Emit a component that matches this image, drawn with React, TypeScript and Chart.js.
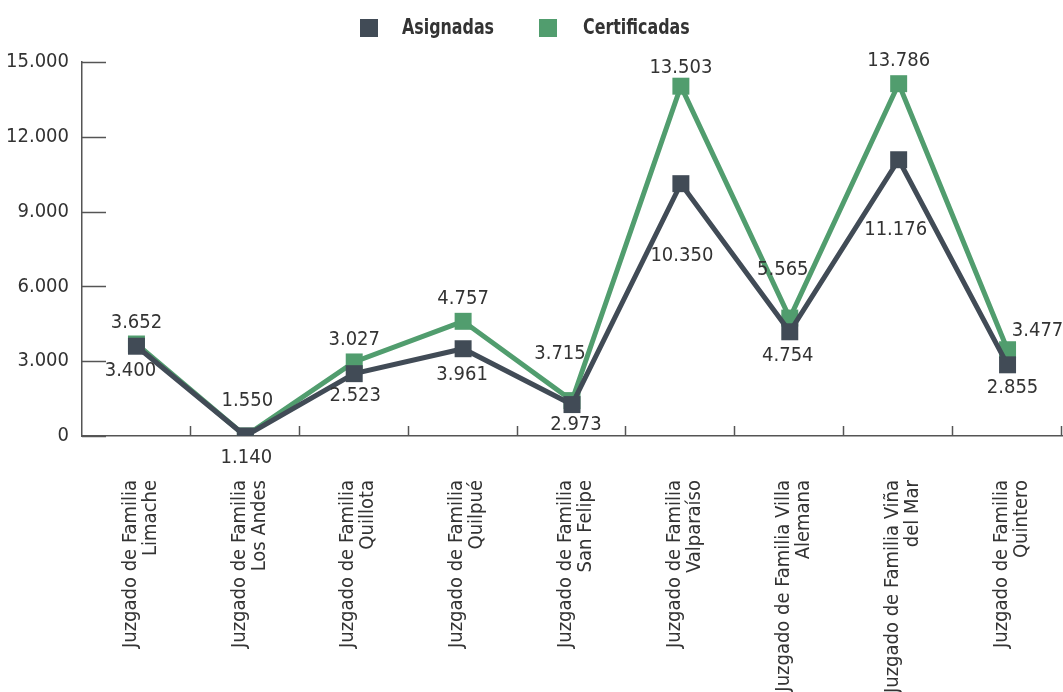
import React, { useEffect, useRef } from "react";
import { Chart, registerables } from "chart.js";

Chart.register(...registerables);

const categories: string[][] = [
  ["Juzgado de Familia", "Limache"],
  ["Juzgado de Familia", "Los Andes"],
  ["Juzgado de Familia", "Quillota"],
  ["Juzgado de Familia", "Quilpué"],
  ["Juzgado de Familia", "San Felipe"],
  ["Juzgado de Familia", "Valparaíso"],
  ["Juzgado de Familia Villa", "Alemana"],
  ["Juzgado de Familia Viña", "del Mar"],
  ["Juzgado de Familia", "Quintero"],
];

// Plotted positions
const asignadas = [3600, 0, 2500, 3500, 1260, 10120, 4180, 11080, 2855];
const certificadas = [3690, 0, 2970, 4600, 1420, 14030, 4730, 14130, 3460];

// Printed value labels as shown in the picture
const asignadasLabels = ["3.400", "1.140", "2.523", "3.961", "2.973", "10.350", "4.754", "11.176", "2.855"];
const certificadasLabels = ["3.652", "1.550", "3.027", "4.757", "3.715", "13.503", "5.565", "13.786", "3.477"];

const yTicks = [0, 3000, 6000, 9000, 12000, 15000];

// label offsets (pixels, relative to point)
const asignadasLabelOffsets: [number, number][] = [
  [-6, 25], [1, 22], [1, 22], [-1, 26], [4, 20], [1, 72], [-2, 24], [-3, 70], [5, 23],
];
const certificadasLabelOffsets: [number, number][] = [
  [0, -21], [2, -35], [0, -22], [0, -23], [-12, -47], [0, -18], [-7, -48], [0, -23], [30, -19],
];

const FONT = "'DejaVu Sans Condensed', 'Liberation Sans Narrow', 'Liberation Sans', sans-serif";
const DARK = "#414b56";
const GREEN = "#519d6e";
const TEXT = "#333333";
const AXIS = "#555555";

const fmt = (v: number) => {
  const s = Math.round(v).toString();
  return s.replace(/\B(?=(\d{3})+(?!\d))/g, ".");
};

const decorPlugin = {
  id: "decor",
  afterDraw(chart: any) {
    const { ctx, chartArea, scales } = chart;
    ctx.save();
    ctx.strokeStyle = AXIS;
    ctx.lineWidth = 1.5;
    yTicks.forEach((v) => {
      const y = Math.round(scales.y.getPixelForValue(v)) + 0.5;
      ctx.beginPath();
      ctx.moveTo(chartArea.left, y);
      ctx.lineTo(chartArea.left + 24, y);
      ctx.stroke();
    });
    const n = categories.length;
    for (let i = 1; i <= n; i++) {
      const x = Math.round(scales.x.getPixelForValue(i - 0.5)) - 0.5;
      ctx.beginPath();
      ctx.moveTo(x, chartArea.bottom);
      ctx.lineTo(x, chartArea.bottom - 10);
      ctx.stroke();
    }
    ctx.restore();
  },
  afterDatasetsDraw(chart: any) {
    const { ctx } = chart;
    ctx.save();
    ctx.font = `20px ${FONT}`;
    ctx.fillStyle = TEXT;
    ctx.textAlign = "center";
    ctx.textBaseline = "middle";
    const sets: [number, string[], [number, number][]][] = [
      [0, asignadasLabels, asignadasLabelOffsets],
      [1, certificadasLabels, certificadasLabelOffsets],
    ];
    sets.forEach(([di, labels, offs]) => {
      const meta = chart.getDatasetMeta(di);
      meta.data.forEach((el: any, i: number) => {
        ctx.fillText(labels[i], el.x + offs[i][0], el.y + offs[i][1]);
      });
    });
    ctx.restore();
  },
};

export default function App() {
  const ref = useRef<HTMLCanvasElement | null>(null);

  useEffect(() => {
    document.body.style.margin = "0";
    if (!ref.current) return;
    const chart = new Chart(ref.current, {
      type: "line",
      data: {
        labels: categories,
        datasets: [
          {
            label: "Asignadas",
            data: asignadas,
            borderColor: DARK,
            backgroundColor: DARK,
            borderWidth: 5,
            pointStyle: "rect",
            pointRadius: 12,
            pointHoverRadius: 12,
            pointBorderWidth: 0,
            tension: 0,
          },
          {
            label: "Certificadas",
            data: certificadas,
            borderColor: GREEN,
            backgroundColor: GREEN,
            borderWidth: 5,
            pointStyle: "rect",
            pointRadius: 12,
            pointHoverRadius: 12,
            pointBorderWidth: 0,
            tension: 0,
          },
        ],
      },
      options: {
        responsive: false,
        animation: false,
        layout: { autoPadding: false, padding: { top: 62, left: 0, right: 1, bottom: 0 } },
        plugins: {
          legend: { display: false },
          tooltip: { enabled: false },
        },
        scales: {
          x: {
            offset: true,
            grid: { display: false, drawTicks: false },
            border: { display: true, color: AXIS, width: 1.5 },
            ticks: {
              minRotation: 90,
              maxRotation: 90,
              autoSkip: false,
              padding: 44,
              labelOffset: -6,
              color: TEXT,
              font: { family: FONT, size: 20, lineHeight: 1.0 },
            },
            afterFit: (s: any) => {
              s.height = 256;
              s.paddingLeft = 0;
              s.paddingRight = 0;
            },
          },
          y: {
            min: 0,
            max: 15000,
            grid: { display: false, drawTicks: false },
            border: { display: true, color: AXIS, width: 1.5 },
            ticks: {
              stepSize: 3000,
              padding: 13,
              color: TEXT,
              font: { family: FONT, size: 20 },
              callback: (v: any) => fmt(Number(v)),
            },
            afterFit: (s: any) => {
              s.width = 82;
              s.paddingTop = 0;
              s.paddingBottom = 0;
            },
          },
        },
      },
      plugins: [decorPlugin],
    });
    return () => chart.destroy();
  }, []);

  const legendText: React.CSSProperties = {
    position: "absolute",
    top: 15,
    fontFamily: FONT,
    fontWeight: "bold",
    fontSize: 21,
    color: TEXT,
    lineHeight: "24px",
    whiteSpace: "nowrap",
    transform: "scaleX(0.84)",
    transformOrigin: "left center",
  };
  const box: React.CSSProperties = { position: "absolute", top: 19, width: 18, height: 18 };

  return (
    <div style={{ position: "relative", width: 1063, height: 692, background: "#fff" }}>
      <canvas ref={ref} width={1063} height={692} style={{ display: "block" }} />
      <span style={{ ...box, left: 360, background: DARK }} />
      <span style={{ ...legendText, left: 402 }}>Asignadas</span>
      <span style={{ ...box, left: 539, background: GREEN }} />
      <span style={{ ...legendText, left: 583 }}>Certificadas</span>
    </div>
  );
}
